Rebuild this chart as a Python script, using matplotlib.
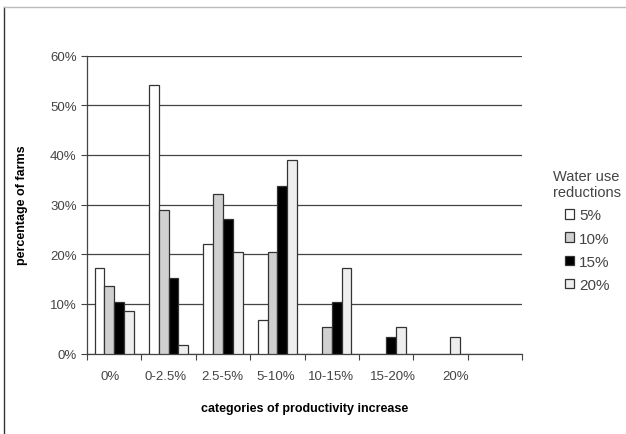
import matplotlib
matplotlib.use("Agg")
import matplotlib.pyplot as plt
import numpy as np
from matplotlib.lines import Line2D
from matplotlib.ticker import FuncFormatter

plt.rcParams['font.family'] = ['Liberation Sans', 'DejaVu Sans']

categories = ["0%", "0-2.5%", "2.5-5%", "5-10%", "10-15%", "15-20%", "20%"]
series_names = ["5%", "10%", "15%", "20%"]
s5 = [17.2, 54.0, 22.0, 6.8, 0, 0, 0]
s10 = [13.6, 28.9, 32.2, 20.4, 5.3, 0, 0]
s15 = [10.3, 15.3, 27.1, 33.8, 10.3, 3.4, 0]
s20 = [8.6, 1.7, 20.4, 38.9, 17.2, 5.3, 3.3]
yticks = [0, 10, 20, 30, 40, 50, 60]

colors = ["#ffffff", "#d0d0d0", "#000000", "#eeeeee"]
# label offsets (in slot units) as typeset in the original
label_shift = [-0.08, -0.05, -0.02, -0.03, -0.01, 0.13, 0.28]

fig = plt.figure(figsize=(6.26, 4.35), dpi=100)
ax = fig.add_axes([0.139, 0.185, 0.695, 0.685])

n = len(categories)
nslots = n + 1
x = np.arange(n)
w = 0.18
data = [s5, s10, s15, s20]
for i, (vals, c, name) in enumerate(zip(data, colors, series_names)):
    bars = ax.bar(x + (i - 1.5) * w, vals, width=w, color=c, edgecolor="#333333",
                  linewidth=0.9, label=name, zorder=3)
    for b, v in zip(bars, vals):
        if v == 0:
            b.set_visible(False)

ax.set_xlim(-0.5, nslots - 0.5)
ax.set_ylim(0, 60)
ax.set_yticks(yticks)
ax.yaxis.set_major_formatter(FuncFormatter(lambda v, p: f"{int(v)}%"))
ax.yaxis.grid(True, color="#444444", linewidth=0.9, zorder=0)
ax.set_axisbelow(True)

ax.set_xticks(np.arange(nslots + 1) - 0.5)
ax.set_xticklabels([])
ax.set_xticks(x + np.array(label_shift), minor=True)
ax.set_xticklabels(categories, minor=True)
ax.tick_params(axis="x", which="minor", length=0, pad=12, labelsize=9.5, labelcolor="#444444")
ax.tick_params(axis="x", which="major", length=4, color="#444444")
ax.tick_params(axis="y", length=4, color="#444444", labelsize=9.5, labelcolor="#444444")

for s in ["top", "right"]:
    ax.spines[s].set_visible(False)
for s in ["left", "bottom"]:
    ax.spines[s].set_color("#444444")
    ax.spines[s].set_linewidth(0.9)

ax.set_xlabel("categories of productivity increase", fontsize=9, fontweight="bold", labelpad=14)
ax.set_ylabel("percentage of farms", fontsize=9, fontweight="bold", labelpad=16)

leg = ax.legend(title="Water use\nreductions", loc="upper left", bbox_to_anchor=(1.04, 0.665),
                frameon=False, fontsize=11, title_fontsize=10.5, handlelength=0.6,
                handleheight=0.6, handletextpad=0.35, labelspacing=0.6)
leg._legend_box.align = "center"
for t in leg.get_texts():
    t.set_color("#444444")
leg.get_title().set_color("#444444")

# page border fragments
fig.add_artist(Line2D([4/626, 4/626], [0, 1 - 8/435], transform=fig.transFigure, color="#333333", linewidth=1))
fig.add_artist(Line2D([4/626, 1], [1 - 8/435, 1 - 8/435], transform=fig.transFigure, color="#bbbbbb", linewidth=1))

fig.savefig("out.png", dpi=100)
